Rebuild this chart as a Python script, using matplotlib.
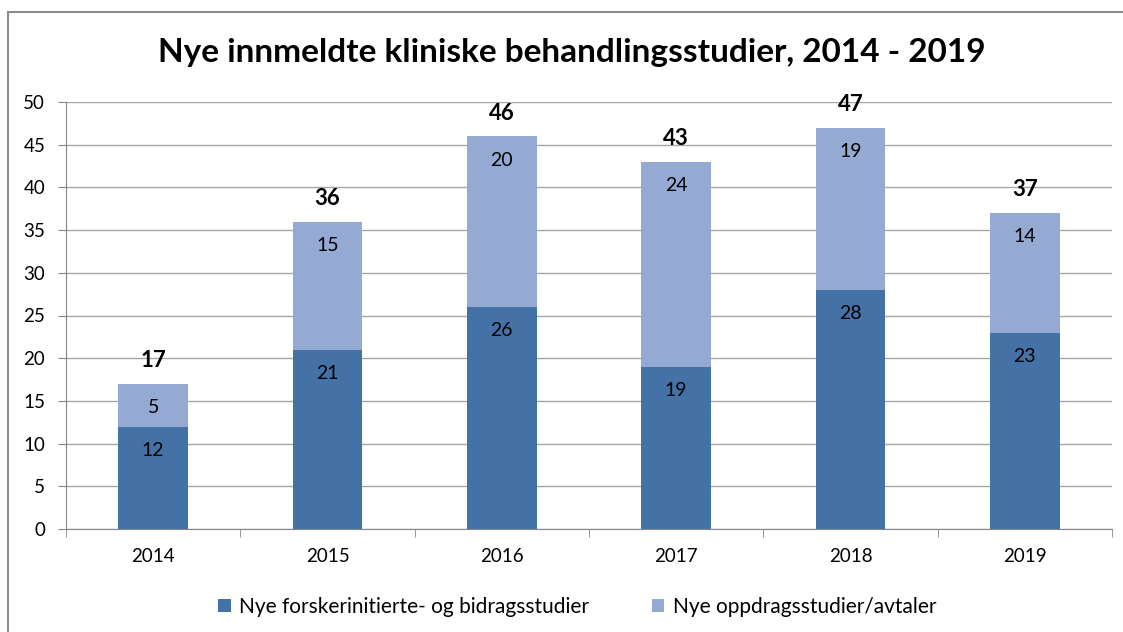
import numpy as np
import matplotlib.pyplot as plt
from matplotlib.patches import Rectangle

plt.rcParams['font.family'] = ['Lato', 'DejaVu Sans']

# data
years = ['2014', '2015', '2016', '2017', '2018', '2019']
forsker = [12, 21, 26, 19, 28, 23]     # Nye forskerinitierte- og bidragsstudier
oppdrag = [5, 15, 20, 24, 19, 14]      # Nye oppdragsstudier/avtaler

c_dark = '#4472a7'
c_light = '#94aad2'

fig = plt.figure(figsize=(11.23, 6.32), dpi=100)
# chart frame
fig.patches.append(Rectangle((8 / 1123, -0.05), 1.2, 1 - 12 / 632 + 0.05,
                             transform=fig.transFigure, fill=False,
                             edgecolor='#8c8c8c', linewidth=1.5))

ax = fig.add_axes([66 / 1123, 1 - 529 / 632, 1046 / 1123, 427 / 632])
x = np.arange(len(years))
w = 0.4
b1 = ax.bar(x, forsker, w, color=c_dark, zorder=3, label='Nye forskerinitierte- og bidragsstudier')
b2 = ax.bar(x, oppdrag, w, bottom=forsker, color=c_light, zorder=3, label='Nye oppdragsstudier/avtaler')

# labels sit a bit under the top of each segment, totals above the bar
for i in range(len(years)):
    tot = forsker[i] + oppdrag[i]
    ax.text(x[i], forsker[i] - 2.8, str(forsker[i]), ha='center', va='center', fontsize=14, zorder=4)
    ax.text(x[i], tot - 2.8, str(oppdrag[i]), ha='center', va='center', fontsize=14, zorder=4)
    ax.text(x[i], tot + 2.7, str(tot), ha='center', va='center', fontsize=16, fontweight='bold', zorder=4)

ax.set_xlim(-0.5, 5.5)
ax.set_ylim(0, 50)
ax.set_yticks(np.arange(0, 51, 5))
ax.set_xticks(x)
ax.set_xticklabels(years)
ax.set_xticks(np.arange(-0.5, 5.6, 1), minor=True)
ax.tick_params(axis='x', which='major', length=0, labelsize=13.5, pad=14)
ax.tick_params(axis='x', which='minor', length=6, color='#868686', direction='out')
ax.tick_params(axis='y', length=6, color='#868686', labelsize=13.5, pad=9)
ax.grid(axis='y', color='#a6a6a6', linewidth=1, zorder=0)
for s in ['top', 'right']:
    ax.spines[s].set_visible(False)
ax.spines['left'].set_color('#868686')
ax.spines['bottom'].set_color('#868686')

fig.text(0.509, 1 - 62 / 632, 'Nye innmeldte kliniske behandlingsstudier, 2014 - 2019',
         ha='center', va='baseline', fontsize=24, fontweight='bold')

fig.legend(handles=[b1, b2], loc='center', bbox_to_anchor=(0.514, 1 - 607 / 632), ncol=2,
           frameon=False, fontsize=15, handlelength=0.6, handleheight=0.6,
           handletextpad=0.4, columnspacing=3.0)

plt.savefig('out.png', dpi=100)
